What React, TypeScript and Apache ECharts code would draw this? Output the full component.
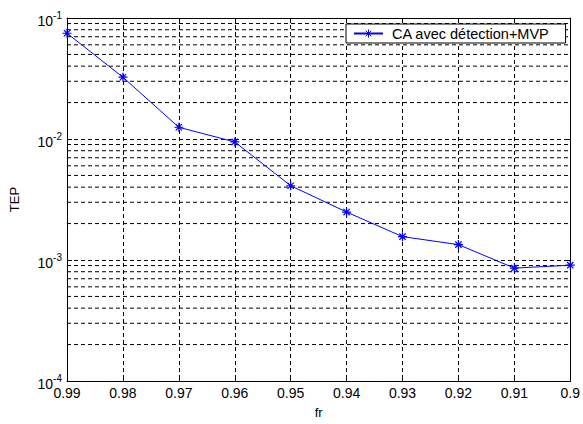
import React, { useEffect, useRef } from "react";
import * as echarts from "echarts";

const frValues = [0.99, 0.98, 0.97, 0.96, 0.95, 0.94, 0.93, 0.92, 0.91, 0.9];
const tepValues = [0.0748, 0.0324, 0.0125, 0.00946, 0.00411, 0.00249, 0.00156, 0.00134, 0.000857, 0.000906];
const seriesName = "CA avec détection+MVP";
const minorGridValues = [
  2e-4, 3e-4, 4e-4, 5e-4, 6e-4, 7e-4, 8e-4, 9e-4,
  2e-3, 3e-3, 4e-3, 5e-3, 6e-3, 7e-3, 8e-3, 9e-3,
  2e-2, 3e-2, 4e-2, 5e-2, 6e-2, 7e-2, 8e-2, 9e-2,
];
const xMin = 0.9;
const xMax = 0.99;

const FONT = "Liberation Sans, Arial, sans-serif";
const starPath =
  "path://M0 -5 L0 5 M-5 0 L5 0 M-3.5 -3.5 L3.5 3.5 M-3.5 3.5 L3.5 -3.5";
const dash = [4, 3];

export default function App() {
  const ref = useRef<HTMLDivElement>(null);
  useEffect(() => {
    if (!ref.current) return;
    const chart = echarts.init(ref.current, null, { renderer: "svg" });
    const xCommon = {
      type: "value" as const,
      min: xMin,
      max: xMax,
      interval: 0.01,
      inverse: true,
    };
    const yCommon = {
      type: "log" as const,
      logBase: 10,
      min: 1e-4,
      max: 1e-1,
    };
    const minorSeries = minorGridValues.map((v) => ({
      name: "minor" + v,
      type: "line" as const,
      xAxisIndex: 0,
      yAxisIndex: 0,
      silent: true,
      symbol: "none",
      data: [
        [xMax, v],
        [xMin, v],
      ],
      lineStyle: { color: "#000", type: dash, width: 1 },
      z: 1,
    }));
    chart.setOption({
      animation: false,
      backgroundColor: "#ffffff",
      textStyle: { fontFamily: FONT },
      grid: { left: 67, right: 8, top: 18, bottom: 36, containLabel: false },
      legend: {
        left: 346,
        top: 24,
        z: 20,
        padding: [2, 16, 2, 7],
        itemWidth: 29,
        itemHeight: 10,
        backgroundColor: "#ffffff",
        borderColor: "#000000",
        borderWidth: 1,
        itemStyle: { color: "none", borderColor: "#0000ff", borderWidth: 1 },
        textStyle: { fontSize: 14.5, color: "#000", fontFamily: FONT, padding: [0, 0, 0, 4] },
        data: [seriesName],
      },
      xAxis: [
        {
          ...xCommon,
          position: "bottom",
          name: "fr",
          nameLocation: "middle",
          nameGap: 25,
          nameTextStyle: { fontSize: 13, color: "#000", fontFamily: FONT },
          axisLine: { show: true, lineStyle: { color: "#000", width: 1 } },
          axisTick: { show: true, inside: true, length: 5, lineStyle: { color: "#000" } },
          axisLabel: {
            show: true,
            margin: 5,
            fontSize: 14,
            color: "#000",
            fontFamily: FONT,
            formatter: (v: number) => String(+v.toFixed(2)),
          },
          splitLine: { show: true, lineStyle: { color: "#000", type: dash, width: 1 } },
        },
        {
          ...xCommon,
          position: "top",
          axisLine: { show: true, lineStyle: { color: "#000", width: 1 } },
          axisTick: { show: true, inside: true, length: 5, lineStyle: { color: "#000" } },
          axisLabel: { show: false },
          splitLine: { show: false },
        },
      ],
      yAxis: [
        {
          ...yCommon,
          position: "left",
          name: "TEP",
          nameLocation: "middle",
          nameGap: 46,
          nameTextStyle: { fontSize: 13, color: "#000", fontFamily: FONT },
          axisLine: { show: true, lineStyle: { color: "#000", width: 1 } },
          axisTick: { show: true, inside: true, length: 5, lineStyle: { color: "#000" } },
          axisLabel: {
            show: true,
            margin: 5,
            color: "#000",
            formatter: (v: number) => {
              const e = Math.round(Math.log10(v));
              return `{b|10}{s|${e}}`;
            },
            rich: {
              b: { fontSize: 14, color: "#000", fontFamily: FONT, padding: [6, 0, 0, 0] },
              s: { fontSize: 10, color: "#000", fontFamily: FONT, padding: [0, 0, 6, 0] },
            },
          },
          splitLine: { show: true, lineStyle: { color: "#000", type: dash, width: 1 } },
        },
        {
          ...yCommon,
          position: "right",
          axisLine: { show: true, lineStyle: { color: "#000", width: 1 } },
          axisTick: { show: true, inside: true, length: 5, lineStyle: { color: "#000" } },
          axisLabel: { show: false },
          splitLine: { show: false },
        },
      ],
      series: [
        ...minorSeries,
        {
          name: seriesName,
          type: "line",
          xAxisIndex: 0,
          yAxisIndex: 0,
          data: frValues.map((x, i) => [x, tepValues[i]]),
          symbol: starPath,
          symbolSize: 9,
          showAllSymbol: true,
          lineStyle: { color: "#0000ff", width: 1 },
          itemStyle: { color: "#0000ff", borderColor: "#0000ff", borderWidth: 1.2 },
          z: 5,
        },
      ],
    });
    return () => chart.dispose();
  }, []);
  return (
    <div
      ref={ref}
      style={{ position: "fixed", left: 0, top: 0, width: 583, height: 424, background: "#fff" }}
    />
  );
}
